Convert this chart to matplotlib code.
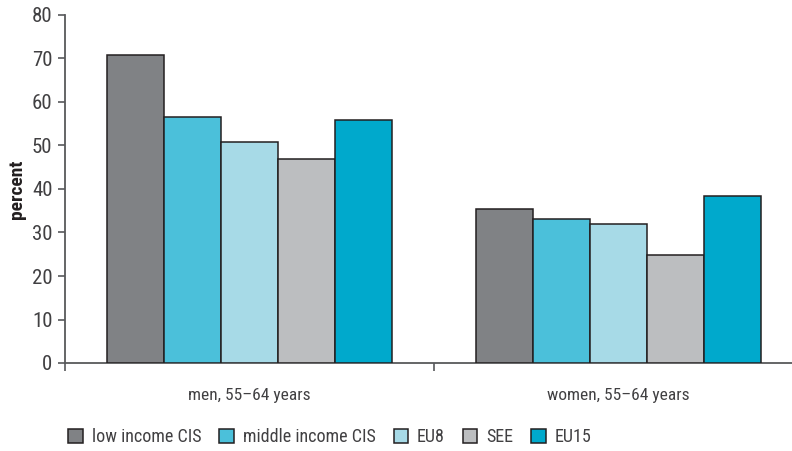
import matplotlib.pyplot as plt
import numpy as np
from matplotlib import font_manager

# pick a condensed face if one is installed
names = {f.name for f in font_manager.fontManager.ttflist}
fam = 'DejaVu Sans'
for cand in ['Roboto Condensed', 'Archivo Narrow', 'Liberation Sans Narrow', 'Barlow Semi Condensed']:
    if cand in names:
        fam = cand
        break
plt.rcParams['font.family'] = [fam, 'DejaVu Sans']

groups = ["men, 55\u201364 years", "women, 55\u201364 years"]
series = ["low income CIS", "middle income CIS", "EU8", "SEE", "EU15"]
low_income_cis = [70.8, 35.3]
middle_income_cis = [56.6, 33.0]
eu8 = [50.7, 32.0]
see = [46.9, 24.9]
eu15 = [55.9, 38.4]
values = [low_income_cis, middle_income_cis, eu8, see, eu15]
colors = ["#808285", "#4bc0da", "#a7dae7", "#bcbec0", "#00a9cc"]

fig = plt.figure(figsize=(7.92, 4.51), dpi=100)
ax = fig.add_axes([65 / 792, 88 / 451, 738 / 792, 348 / 451])

x = np.arange(len(groups))
w = 0.1545
for i, (name, vals) in enumerate(zip(series, values)):
    ax.bar(x + (i - 2) * w, vals, w, color=colors[i], edgecolor="#231f20",
           linewidth=1.1, label=name, zorder=3)

ax.set_xlim(-0.5, 1.5)
ax.set_ylim(0, 80)
ax.set_yticks(range(0, 81, 10))
ax.set_xticks(x)
ax.set_xticklabels(groups)
ax.set_xticks([-0.5, 0.5, 1.5], minor=True)
ax.tick_params(axis="x", which="major", length=0, pad=18, labelsize=12.5, labelcolor="#414042")
ax.tick_params(axis="x", which="minor", length=6, width=1.2, color="#58595b")
ax.tick_params(axis="y", length=5, width=1.2, color="#58595b", labelsize=15,
               labelcolor="#414042", pad=4)

for s in ["top", "right"]:
    ax.spines[s].set_visible(False)
for s in ["left", "bottom"]:
    ax.spines[s].set_color("#58595b")
    ax.spines[s].set_linewidth(1.3)

ax.set_ylabel("percent", fontweight="bold", fontsize=14, color="#231f20", labelpad=4)

leg = fig.legend(loc="center left", bbox_to_anchor=(61 / 792, 14 / 451), ncol=5, frameon=False,
                 fontsize=13, handlelength=0.8, handleheight=0.8, columnspacing=1.0,
                 handletextpad=0.5, borderaxespad=0.0)
for t in leg.get_texts():
    t.set_color("#414042")

fig.savefig("out.png", dpi=100)
